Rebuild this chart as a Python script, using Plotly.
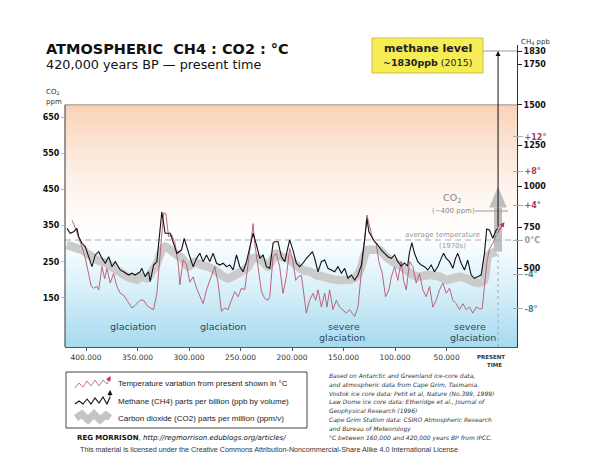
import plotly.graph_objects as go

# ---------------- data ----------------
# years BP in thousands (kyr)
ch4_kyr = [418.5, 415.3, 412.0, 408.8, 407.1, 403.9, 400.7, 397.4, 394.2, 391.0,
           387.7, 384.5, 381.3, 378.0, 374.8, 371.6, 366.8, 363.5, 358.7, 355.5,
           352.3, 347.4, 345.8, 342.6, 339.3, 337.7, 334.4, 331.2, 326.4, 323.2,
           318.3, 311.8, 307.3, 304.7, 302.4, 299.2, 296.0, 292.7, 289.5, 286.3,
           283.0, 279.8, 276.6, 273.3, 270.1, 266.9, 263.6, 260.4, 257.2, 253.9,
           250.7, 247.5, 244.2, 241.0, 237.8, 234.5, 231.3, 228.1, 224.8, 221.6,
           218.4, 216.8, 213.6, 210.3, 207.1, 202.3, 199.1, 195.8, 192.6, 189.4,
           186.1, 182.9, 180.2, 178.0, 174.8, 171.5, 168.3, 165.1, 161.8, 158.6,
           155.4, 152.1, 148.9, 145.7, 142.4, 139.2, 136.0, 132.7, 129.5, 127.3,
           125.4, 123.0, 119.8, 116.6, 113.3, 110.1, 106.9, 103.6, 100.4, 97.3,
           94.0, 90.8, 87.8, 85.9, 83.7, 81.1, 77.9, 74.6, 71.4, 68.2,
           64.9, 61.7, 58.5, 55.2, 52.9, 50.3, 47.1, 43.9, 41.3, 39.1,
           35.8, 32.6, 29.4, 26.1, 22.9, 19.7, 16.4, 13.2, 11.0, 8.3,
           5.1, 1.8, 0.3]
ch4_ppb = [743, 713, 722, 743, 692, 651, 631, 569, 508, 580,
           600, 559, 529, 569, 508, 539, 488, 477, 457, 468,
           457, 477, 498, 447, 477, 416, 518, 539, 845, 713,
           713, 590, 610, 682, 631, 569, 508, 559, 590, 539,
           580, 539, 590, 529, 518, 529, 508, 518, 488, 580,
           508, 477, 539, 631, 713, 641, 559, 580, 508, 498,
           651, 661, 661, 569, 539, 672, 610, 529, 508, 529,
           559, 580, 600, 559, 477, 539, 549, 498, 488, 477,
           508, 468, 498, 437, 457, 426, 457, 518, 672, 805,
           722, 692, 661, 641, 610, 590, 569, 559, 580, 539,
           512, 531, 512, 598, 655, 590, 539, 518, 508, 488,
           518, 477, 508, 559, 590, 559, 539, 498, 559, 590,
           529, 488, 549, 457, 437, 447, 457, 590, 739, 733,
           682, 733, 743]

temp_kyr = [413.6, 410.4, 407.1, 403.9, 400.7, 397.4, 394.9, 392.6, 389.4, 387.7,
            384.5, 381.9, 379.7, 376.5, 373.2, 370.0, 366.8, 363.5, 360.3, 355.5,
            352.3, 347.4, 344.1, 340.9, 337.7, 334.4, 331.2, 328.0, 324.7, 322.5,
            319.9, 316.7, 313.5, 310.2, 308.9, 305.7, 302.4, 299.2, 296.0, 292.7,
            289.5, 286.3, 283.0, 278.2, 275.0, 271.8, 268.5, 265.3, 262.1, 258.8,
            255.6, 252.4, 249.1, 245.9, 242.7, 240.1, 237.8, 236.2, 233.0, 229.7,
            226.5, 223.3, 221.6, 218.4, 215.2, 212.0, 208.8, 205.5, 202.3, 199.1,
            196.4, 194.2, 190.9, 188.7, 186.1, 182.9, 179.7, 177.0, 174.8, 171.5,
            168.3, 166.1, 163.5, 160.3, 157.0, 153.8, 150.6, 147.3, 144.1, 139.2,
            136.0, 132.7, 129.5, 127.3, 124.7, 121.5, 118.2, 115.7, 112.4, 109.2,
            106.0, 103.6, 100.4, 97.3, 94.0, 91.7, 89.1, 85.9, 82.7, 79.4,
            76.2, 73.0, 69.7, 66.5, 63.3, 60.0, 56.8, 53.6, 50.3, 47.1,
            43.9, 40.6, 37.4, 34.2, 30.9, 27.7, 24.5, 21.2, 18.0, 15.4,
            13.2, 11.0, 8.3, 5.1, 1.8]
temp_c = [2.3, 1.4, 0.2, -0.8, -2.1, -3.9, -5.4, -5.6, -5.4, -5.8,
          -3.1, -4.5, -3.3, -5.0, -3.9, -5.4, -6.2, -6.4, -7.0, -7.9,
          -7.6, -7.0, -7.0, -7.6, -7.9, -8.1, -6.2, -1.6, 3.1, 3.1,
          0.4, 0.6, -0.4, -3.1, -5.2, -2.3, -2.9, -4.9, -4.3, -5.6,
          -6.6, -7.4, -5.8, -4.3, -3.1, -5.0, -8.3, -7.9, -8.1, -7.0,
          -6.0, -6.6, -5.6, -5.8, -3.1, -0.4, 1.9, -0.4, -3.1, -6.0,
          -6.8, -7.0, -6.6, -1.9, -1.6, -3.1, -6.2, -4.3, -1.0, -2.5,
          -4.7, -4.3, -4.1, -6.2, -8.5, -7.0, -6.2, -7.0, -5.8, -7.8,
          -6.2, -7.8, -5.8, -8.1, -7.0, -7.8, -8.1, -8.5, -8.1, -8.9,
          -7.8, -3.9, 0.4, 2.9, 1.6, 0.0, -0.4, -2.5, -3.9, -6.6,
          -5.8, -4.3, -3.1, -4.7, -2.5, -4.7, -5.8, -2.5, -3.1, -5.0,
          -3.9, -5.8, -6.6, -5.4, -7.8, -7.0, -5.8, -5.0, -6.2, -5.6,
          -7.0, -7.4, -8.1, -7.4, -8.1, -7.8, -8.5, -7.8, -8.0, -8.0,
          -5.4, -2.7, -1.0, -0.4, 0.6]

co2_kyr = [418.8, 413.6, 408.8, 403.9, 399.1, 394.2, 389.4, 384.5, 379.7, 374.8,
           370.0, 365.2, 360.3, 355.5, 350.6, 345.8, 340.9, 336.1, 331.2, 326.4,
           323.2, 318.3, 311.8, 306.9, 300.9, 294.4, 287.9, 281.5, 275.0, 268.5,
           262.1, 255.6, 249.1, 242.7, 237.8, 233.0, 228.1, 223.3, 218.4, 215.2,
           210.3, 203.9, 198.1, 189.4, 182.9, 176.4, 170.0, 163.5, 157.0, 150.6,
           144.1, 137.6, 132.7, 129.5, 126.3, 121.5, 115.0, 108.5, 102.1, 95.6,
           89.1, 82.7, 76.2, 69.7, 63.3, 56.8, 50.3, 43.9, 37.4, 30.9,
           24.5, 18.0, 13.2, 10.0, 6.7, 1.8]
co2_ppm = [296, 292, 287, 283, 273, 264, 255, 250, 246, 236,
           227, 218, 209, 204, 200, 209, 204, 223, 246, 283,
           292, 283, 269, 260, 236, 250, 241, 236, 227, 213,
           204, 213, 223, 236, 260, 260, 250, 236, 260, 273,
           264, 260, 246, 227, 223, 213, 209, 204, 200, 200,
           200, 209, 236, 269, 283, 283, 283, 264, 250, 241,
           227, 213, 209, 213, 213, 209, 200, 204, 209, 204,
           195, 191, 200, 264, 273, 278]

ch4_present_ppb = 1830
co2_present_ppm = 400
temp_future = [-6.2, 2.1]   # kyr, degC (arrow tip)

x_tickvals = [400, 350, 300, 250, 200, 150, 100, 50]
x_ticktext = ['400.000', '350.000', '300.000', '250.000', '200.000',
              '150.000', '100.000', '50.000']
co2_tickvals = [150, 250, 350, 450, 550, 650]
ch4_tickvals = [500, 750, 1000, 1250, 1500, 1750, 1830]
temp_tickvals = [12, 8, 4, 0, -4, -8]
temp_labels = ['+12°', '+8°', '+4°', '0°C', '-4°', '-8°']

# ---------------- layout constants ----------------
# The page body adds an 8px margin, so the figure is 8px smaller and all
# positions below are given in page pixels.
OFF = 8
W, H = 600 - OFF, 463 - OFF
L, R, T, B = 65, 517, 45, 347          # plot area in page pixels
X_RANGE = [420.4, -18.4]
CO2_RANGE = [14.6, 849.0]
CH4_RANGE = [15.8, 1866.8]
TEMP_RANGE = [-12.44, 22.67]
PANEL_TOP_CH4 = 1500

POS_C, NEG_C, ZERO_C = '#a8405c', '#3a8798', '#9a9a9a'
TEMP_C = '#b4566e'
TEXT_DARK = '#2b4a5c'


def px_x(px):
    return (px - L) / (R - L)


def px_y(py):
    return (B - py) / (B - T)


frac = (PANEL_TOP_CH4 - CH4_RANGE[0]) / (CH4_RANGE[1] - CH4_RANGE[0])
co2_top = CO2_RANGE[0] + frac * (CO2_RANGE[1] - CO2_RANGE[0])
co2_bot = CO2_RANGE[0]

fig = go.Figure()

# background gradient (peach -> white -> light blue)
grad = [[0.0, '#a6dbf0'], [0.112, '#bde4f4'], [0.237, '#d8f0f9'], [0.382, '#f2fafd'],
        [0.465, '#ffffff'], [0.568, '#fffaf7'], [0.693, '#fdf1e8'], [0.817, '#fce6d7'],
        [1.0, '#f9d2b6']]
fig.add_trace(go.Scatter(
    x=[X_RANGE[0], X_RANGE[1], X_RANGE[1], X_RANGE[0], X_RANGE[0]],
    y=[co2_bot, co2_bot, co2_top, co2_top, co2_bot],
    fill='toself', mode='none',
    fillgradient=dict(type='vertical', colorscale=grad, start=co2_bot, stop=co2_top),
    hoverinfo='skip', yaxis='y'))

# CO2 band
fig.add_trace(go.Scatter(x=co2_kyr, y=co2_ppm, mode='lines',
                         line=dict(color='#cbcbcb', width=8.5, shape='spline', smoothing=0.6),
                         yaxis='y', hoverinfo='skip'))
# present-time dashed marker
fig.add_trace(go.Scatter(x=[0, 0], y=[co2_bot, co2_ppm[-1]], mode='lines',
                         line=dict(color='#999', width=0.8, dash='3px,3px'),
                         yaxis='y', hoverinfo='skip'))
# CO2 arrow to present level
head_half = 8.5
head_len = 58
fig.add_trace(go.Scatter(x=[0, 0], y=[co2_ppm[-1], co2_present_ppm], mode='lines',
                         line=dict(color='#bfbfbf', width=8), yaxis='y', hoverinfo='skip'))
fig.add_trace(go.Scatter(
    x=[head_half, -head_half, 0, head_half],
    y=[co2_present_ppm, co2_present_ppm, co2_present_ppm + head_len, co2_present_ppm],
    fill='toself', mode='none', fillcolor='#bfbfbf', yaxis='y', hoverinfo='skip'))

# 0 degC dashed reference line (temperature axis)
fig.add_trace(go.Scatter(x=X_RANGE, y=[0, 0], mode='lines',
                         line=dict(color='#aaaaaa', width=1.2, dash='6px,4px'),
                         yaxis='y2', hoverinfo='skip'))
# temperature
fig.add_trace(go.Scatter(x=temp_kyr, y=temp_c, mode='lines',
                         line=dict(color=TEMP_C, width=0.9), yaxis='y2', hoverinfo='skip'))
# methane
fig.add_trace(go.Scatter(x=ch4_kyr, y=ch4_ppb, mode='lines',
                         line=dict(color='#111111', width=1.1), yaxis='y3', hoverinfo='skip'))

temp_ticktext = []
for v, lab in zip(temp_tickvals, temp_labels):
    c = POS_C if v > 0 else (NEG_C if v < 0 else ZERO_C)
    temp_ticktext.append(f'<span style="color:{c}">{lab}</span>')

fig.update_layout(
    width=W, height=H,
    margin=dict(l=L - OFF, r=600 - R, t=T - OFF, b=463 - B, pad=0),
    paper_bgcolor='white', plot_bgcolor='white',
    showlegend=False,
    font=dict(family='DejaVu Sans', color='#222'),
    xaxis=dict(range=X_RANGE, tickvals=x_tickvals, ticktext=x_ticktext,
               ticks='outside', ticklen=3, tickcolor='#555',
               tickfont=dict(size=7.5, color='#333'),
               showline=True, linecolor='#555', linewidth=1.2,
               showgrid=False, zeroline=False, fixedrange=True),
    yaxis=dict(range=CO2_RANGE, tickvals=co2_tickvals,
               ticks='outside', ticklen=3, tickcolor='#bbbbbb',
               tickfont=dict(size=8, color='#111', weight='bold'),
               showline=False, showgrid=False, zeroline=False),
    yaxis2=dict(range=TEMP_RANGE, overlaying='y', side='right', anchor='free',
                position=px_x(512), tickvals=temp_tickvals, ticktext=temp_ticktext,
                ticks='outside', ticklen=10, tickcolor='#aaaaaa',
                tickfont=dict(size=8, weight='bold'),
                showline=False, showgrid=False, zeroline=False),
    yaxis3=dict(range=CH4_RANGE, overlaying='y', side='right', anchor='x',
                tickvals=ch4_tickvals, ticks='outside', ticklen=4, tickcolor='#222',
                tickfont=dict(size=8, color='#111', weight='bold'),
                showline=True, linecolor='#333', linewidth=1,
                showgrid=False, zeroline=False),
)

shapes = []
# panel frame
shapes.append(dict(type='line', xref='paper', yref='y3', x0=0, x1=0,
                   y0=CH4_RANGE[0], y1=PANEL_TOP_CH4, line=dict(color='#555', width=1.2)))
shapes.append(dict(type='line', xref='paper', yref='y3', x0=0, x1=1,
                   y0=PANEL_TOP_CH4, y1=PANEL_TOP_CH4, line=dict(color='#8c7466', width=0.8)))
# yellow methane box + connector to 1830
shapes.append(dict(type='rect', xref='paper', yref='paper',
                   x0=px_x(372), x1=px_x(483), y0=px_y(73), y1=px_y(38),
                   fillcolor='#f6ec55', line=dict(color='#cfc03c', width=1)))
shapes.append(dict(type='line', xref='paper', yref='y3', x0=px_x(483), x1=1,
                   y0=ch4_present_ppb, y1=ch4_present_ppb, line=dict(color='#999', width=1)))
# CO2 label connector
shapes.append(dict(type='line', xref='paper', yref='paper', x0=px_x(475), x1=px_x(508),
                   y0=px_y(211), y1=px_y(211), line=dict(color='#999', width=1)))
# legend box
shapes.append(dict(type='rect', xref='paper', yref='paper',
                   x0=px_x(66), x1=px_x(307), y0=px_y(428), y1=px_y(372),
                   line=dict(color='#444', width=1)))


def path_from(points):
    return 'M ' + ' L '.join(f'{px_x(a):.4f},{px_y(b):.4f}' for a, b in points)


pink_icon = [(75, 388), (79, 383), (83, 387), (87, 381), (91, 386), (95, 380),
             (99, 386), (103, 380), (107, 384), (110, 378)]
black_icon = [(75, 404), (79, 401), (83, 404), (87, 399), (91, 404), (95, 398),
              (99, 403), (103, 397), (107, 404), (110, 397)]
gray_icon = [(76, 418), (82, 414), (88, 420), (94, 414), (100, 420), (106, 415), (110, 418)]
shapes.append(dict(type='path', xref='paper', yref='paper', path=path_from(gray_icon),
                   line=dict(color='#c4c4c4', width=7)))
shapes.append(dict(type='path', xref='paper', yref='paper', path=path_from(pink_icon),
                   line=dict(color=TEMP_C, width=0.8)))
shapes.append(dict(type='path', xref='paper', yref='paper', path=path_from(black_icon),
                   line=dict(color='#111', width=1.1)))
fig.update_layout(shapes=shapes)

ann = []


def txt(s, px, py, size, color='#222', xanchor='left', family=None):
    f = dict(size=size, color=color)
    if family:
        f['family'] = family
    ann.append(dict(text=s, x=px_x(px), y=px_y(py), xref='paper', yref='paper',
                    showarrow=False, xanchor=xanchor, yanchor='middle', font=f))


# titles
txt('<b>ATMOSPHERIC  CH4 : CO2 : °C</b>', 44, 49, 14.5, '#111')
txt('420,000 years BP — present time', 44, 64, 12.8, '#111')
# axis captions
txt('CO<sub>2</sub>', 44, 92, 7, '#333')
txt('ppm', 44, 102, 7, '#333')
txt('CH<sub>4</sub> ppb', 519, 42, 7, '#333')
# methane box
txt('<b>methane level</b>', 427.5, 49, 11, '#222', 'center')
txt('<b>~1830ppb</b> (2015)', 427.5, 63, 9.5, '#222', 'center')
# in-plot labels
txt('glaciation', 132.5, 326, 9.5, TEXT_DARK, 'center')
txt('glaciation', 222.5, 326, 9.5, TEXT_DARK, 'center')
txt('severe', 344, 326, 9.5, TEXT_DARK, 'center')
txt('glaciation', 342, 337, 9.5, TEXT_DARK, 'center')
txt('severe', 470, 326, 9.5, TEXT_DARK, 'center')
txt('glaciation', 473, 337, 9.5, TEXT_DARK, 'center')
txt('CO<sub>2</sub>', 452, 199, 9.5, '#888', 'center')
txt('(~400 ppm)', 453, 211, 7, '#888', 'center')
txt('average temperature', 442, 235, 7, '#999', 'center')
txt('(1970s)', 452, 246, 7, '#999', 'center')
txt('<b>PRESENT</b>', 491, 357, 5.5, '#333', 'center')
txt('<b>TIME</b>', 494, 365, 5.5, '#333', 'center')
# legend texts
txt('Temperature variation from present shown in °C', 116, 383, 8, '#222', family='Liberation Sans')
txt('Methane (CH4) parts per billion (ppb by volume)', 116, 401, 8, '#222', family='Liberation Sans')
txt('Carbon dioxide (CO2) parts per million (ppm/v)', 116, 418, 8, '#222', family='Liberation Sans')
# credits
txt('<b>REG MORRISON</b>, <i>http://regmorrison.edublogs.org/articles/</i>', 75, 438, 7, '#111')
txt('This material is licensed under the Creative Commons Attribution-Noncommercial-Share Alike 4.0 International License',
    78, 449, 7.2, '#333', family='Liberation Sans')
notes = ['Based on Antarctic and Greenland ice-core data,',
         'and atmospheric data from Cape Grim, Tasmania.',
         'Vostok ice core data: Petit et al, Nature (No.399, 1999)',
         'Law Dome ice core data: Etheridge et al., Journal of',
         'Geophysical Research (1996)',
         'Cape Grim Station data: CSIRO Atmospheric Research',
         'and Bureau of Meteorology',
         '°C between 160,000 and 420,000 years BP from IPCC.']
note_y = [375.5, 384.5, 393.3, 402.2, 411, 420, 429, 438.3]
for s, yy in zip(notes, note_y):
    txt(f'<i>{s}</i>', 327, yy, 6, '#333')

# arrows
ann.append(dict(x=0, y=ch4_present_ppb, xref='x', yref='y3',
                ax=0, ay=ch4_ppb[-1], axref='x', ayref='y3', text='',
                showarrow=True, arrowhead=2, arrowsize=1, arrowwidth=1, arrowcolor='#111'))
ann.append(dict(x=temp_future[0], y=temp_future[1], xref='x', yref='y2',
                ax=temp_kyr[-1], ay=temp_c[-1], axref='x', ayref='y2', text='',
                showarrow=True, arrowhead=2, arrowsize=1, arrowwidth=1, arrowcolor='#c0334a'))
# legend arrowheads
ann.append(dict(x=px_x(110.5), y=px_y(376), xref='paper', yref='paper', ax=-3, ay=6,
                text='', showarrow=True, arrowhead=2, arrowsize=1, arrowwidth=1, arrowcolor='#c0334a'))
ann.append(dict(x=px_x(110), y=px_y(390), xref='paper', yref='paper', ax=0, ay=8,
                text='', showarrow=True, arrowhead=2, arrowsize=1, arrowwidth=1, arrowcolor='#111'))

fig.update_layout(annotations=ann)

fig.write_html('out.html')
